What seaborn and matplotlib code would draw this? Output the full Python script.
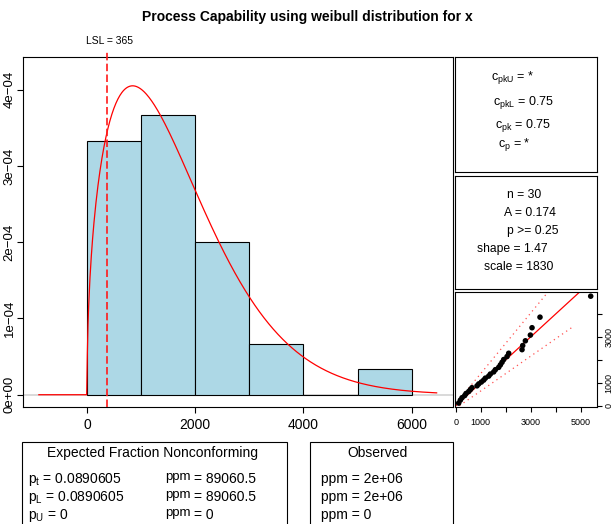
import numpy as np
import matplotlib
matplotlib.use("Agg")
import matplotlib.pyplot as plt
from matplotlib.patches import Rectangle
import seaborn as sns

# values
x_sample = [120, 187, 253, 360, 413, 520, 587, 650, 853, 920,
            1027, 1120, 1187, 1320, 1387, 1520, 1587, 1720, 1787, 1853,
            1920, 2053, 2120, 2653, 2680, 2787, 2987, 3053, 3372, 5400]
hist_breaks = [0, 1000, 2000, 3000, 4000, 5000, 6000]
lsl = 365
weib_shape = 1.47
weib_scale = 1830
curve_range = [-890, 6460]

y_ticks = [0, 1e-4, 2e-4, 3e-4, 4e-4]
y_labels = ["0e+00", "1e\u221204", "2e\u221204", "3e\u221204", "4e\u221204"]
x_ticks = [0, 2000, 4000, 6000]

# confidence bands of the qq panel
band_up_x = [0, 1000, 2000, 3000, 3650]
band_up_y = [80, 1400, 2720, 4040, 4900]
band_lo_x = [150, 1000, 2000, 3000, 4000, 4700]
band_lo_y = [0, 640, 1400, 2160, 2920, 3450]
qq_xticks = [0, 1000, 2000, 3000, 4000, 5000]
qq_xlabels = ["0", "1000", "", "3000", "", "5000"]
qq_yticks = [0, 1000, 2000, 3000, 4000]
qq_ylabels = ["0", "1000", "", "3000", ""]

cap_lines = [r"$\mathrm{c_{pkU}}$ = *", r"$\mathrm{c_{pkL}}$ = 0.75",
             r"$\mathrm{c_{pk}}$ = 0.75", r"$\mathrm{c_p}$ = *"]
fit_lines = ["n = 30", "A = 0.174", "p >= 0.25", "shape = 1.47", "scale = 1830"]
exp_p = [r"$\mathrm{p_t}$ = 0.0890605", r"$\mathrm{p_L}$ = 0.0890605", r"$\mathrm{p_U}$ = 0"]
exp_ppm = ["= 89060.5", "= 89060.5", "= 0"]
obs_ppm = ["ppm = 2e+06", "ppm = 2e+06", "ppm = 0"]

plt.rcParams["font.family"] = ["Liberation Sans", "DejaVu Sans"]
plt.rcParams["mathtext.fontset"] = "custom"
plt.rcParams["mathtext.rm"] = "Liberation Sans"
plt.rcParams["mathtext.it"] = "Liberation Sans:italic"
plt.rcParams["axes.linewidth"] = 0.8

W, H = 614, 524
fig = plt.figure(figsize=(W / 100, H / 100), dpi=100)


def fx(x):
    return x / W


def fy(y):
    return 1 - y / H


def box(l, t, r, b):
    return [l / W, 1 - b / H, (r - l) / W, (b - t) / H]


# main histogram
ax = fig.add_axes(box(23, 57, 452.7, 407))
ax.axhline(0, color="lightgray", lw=1.2, zorder=0)
sns.histplot(x=x_sample, bins=hist_breaks, stat="density", color="lightblue",
             edgecolor="black", linewidth=0.8, alpha=1, ax=ax, zorder=1)
grid = np.linspace(curve_range[0], curve_range[1], 600)
z = np.clip(grid, 0, None) / weib_scale
pdf = np.where(grid > 0, weib_shape / weib_scale * z ** (weib_shape - 1) * np.exp(-z ** weib_shape), 0)
sns.lineplot(x=grid, y=pdf, color="red", lw=0.9, sort=False, estimator=None, ax=ax, zorder=3)
ax.axvline(lsl, ymin=0, ymax=1.018, color="#ff1a1a", lw=1.2, ls=(0, (4.5, 2)), clip_on=False, zorder=4)
ax.set_xlim(-1183, 6757)
ax.set_ylim(-1.61e-5, 4.43e-4)
ax.set_xticks(x_ticks)
ax.set_yticks(y_ticks)
ax.set_yticklabels(y_labels, rotation=90, va="center")
ax.set_xlabel("")
ax.set_ylabel("")
ax.tick_params(length=4.3, width=0.8, pad=3.5, labelsize=10)
ax.tick_params(axis="y", pad=1, labelsize=9.5)

fig.text(fx(307), fy(17), "Process Capability using weibull distribution for x",
         fontweight="bold", fontsize=10, ha="center", va="center")
fig.text(fx(110), fy(41), f"LSL = {lsl}", fontsize=7.5, ha="center", va="center")

# capability indices box
ax1 = fig.add_axes(box(454.7, 57, 596.5, 172))
ax1.set_xticks([])
ax1.set_yticks([])
for s, x, y in zip(cap_lines, [491, 493, 495, 498], [78, 103, 126, 145]):
    fig.text(fx(x), fy(y), s, fontsize=9, ha="left", va="center")

# fit box
ax2 = fig.add_axes(box(454.7, 175.5, 596.5, 288.5))
ax2.set_xticks([])
ax2.set_yticks([])
for s, x, y in zip(fit_lines, [507, 504, 507, 477, 484], [195, 213, 231, 249, 267]):
    fig.text(fx(x), fy(y), s, fontsize=8.7, ha="left", va="center")

# qq plot
axq = fig.add_axes(box(454.7, 291.7, 596.7, 407))
n = len(x_sample)
pp = (np.arange(1, n + 1) - 0.5) / n
theo = weib_scale * (-np.log(1 - pp)) ** (1 / weib_shape)
axq.axline((0, 0), slope=1, color="red", lw=0.9)
sns.lineplot(x=band_up_x, y=band_up_y, color="#ff5050", lw=0.9, ls=(0, (1, 3)), ax=axq)
sns.lineplot(x=band_lo_x, y=band_lo_y, color="#ff5050", lw=0.9, ls=(0, (1, 3)), ax=axq)
sns.scatterplot(x=sorted(x_sample), y=theo, color="black", s=16, edgecolor="none", ax=axq, zorder=5)
axq.set_xlim(-40, 5640)
axq.set_ylim(-57, 4970)
axq.set_xticks(qq_xticks)
axq.set_xticklabels(qq_xlabels)
axq.yaxis.tick_right()
axq.set_yticks(qq_yticks)
axq.set_yticklabels(qq_ylabels, rotation=90, va="center")
axq.tick_params(length=3.6, width=0.8, labelsize=6.5)
axq.tick_params(axis="x", pad=4.5)
axq.tick_params(axis="y", pad=2)

# bottom boxes
for l, r in [(22, 287), (310, 453)]:
    fig.patches.append(Rectangle((fx(l), fy(560)), (r - l) / W, (560 - 442) / H,
                                 transform=fig.transFigure, fill=False, lw=0.8, ec="black"))
fig.text(fx(152.5), fy(453), "Expected Fraction Nonconforming", fontsize=10, ha="center", va="center")
fig.text(fx(377), fy(453), "Observed", fontsize=10, ha="center", va="center")
for i, y in enumerate([479, 497, 515]):
    fig.text(fx(28), fy(y), exp_p[i], fontsize=10, ha="left", va="center")
    fig.text(fx(165), fy(y - 2), "ppm", fontsize=9.5, ha="left", va="center")
    fig.text(fx(194), fy(y), exp_ppm[i], fontsize=10, ha="left", va="center")
    fig.text(fx(321), fy(y), obs_ppm[i], fontsize=10, ha="left", va="center")

fig.savefig("out.png", dpi=100)
